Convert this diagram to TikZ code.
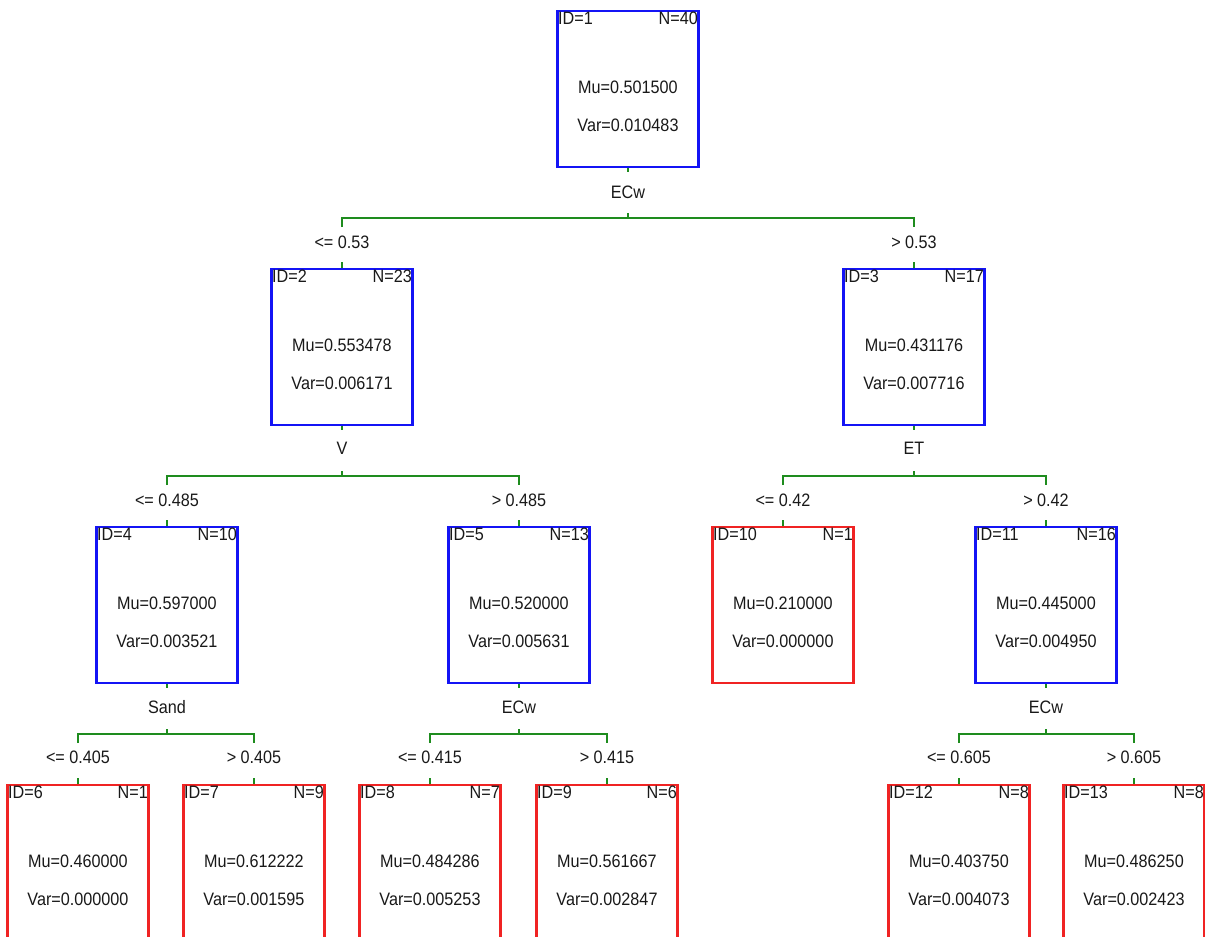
\documentclass[tikz,border=0pt]{standalone}
\usepackage{fontspec}
\setmainfont{Liberation Sans}[FakeStretch=0.9]
\usepackage{tikz}
\usepackage{xcolor}

\definecolor{boxblue}{RGB}{20,20,245}
\definecolor{boxred}{RGB}{240,35,35}
\definecolor{edgegreen}{RGB}{30,140,30}

\tikzset{
  tbox/.style={rectangle, minimum width=141pt, minimum height=156pt, line width=2.2pt, inner sep=0pt, anchor=north},
  edge/.style={edgegreen, line width=1.8pt},
  lbl/.style={inner sep=1pt, text=black!90}
}

% name, x, top, colour, id, n, mu, var
\newcommand{\regnode}[8]{
  \node[tbox, draw=#4] (#1) at (#2,#3) {};
  \node[lbl, anchor=north west] (#1id) at ([shift={(0.5pt,-1pt)}]#1.north west) {ID=#5};
  \node[lbl, anchor=north east] (#1n) at ([shift={(-0.5pt,-1pt)}]#1.north east) {N=#6};
  \node[lbl] (#1mu) at ([yshift=-77pt]#1.north) {Mu=#7};
  \node[lbl] (#1var) at ([yshift=-115pt]#1.north) {Var=#8};
}

\begin{document}
\begin{tikzpicture}[x=1pt, y=-1pt, font=\fontsize{18}{21}\selectfont]
\useasboundingbox (0,0) rectangle (1205,937);

\regnode{n1}{628}{10}{boxblue}{1}{40}{0.501500}{0.010483}
\regnode{n2}{342}{268}{boxblue}{2}{23}{0.553478}{0.006171}
\regnode{n3}{914}{268}{boxblue}{3}{17}{0.431176}{0.007716}
\regnode{n4}{167}{526}{boxblue}{4}{10}{0.597000}{0.003521}
\regnode{n5}{519}{526}{boxblue}{5}{13}{0.520000}{0.005631}
\regnode{n10}{783}{526}{boxred}{10}{1}{0.210000}{0.000000}
\regnode{n11}{1046}{526}{boxblue}{11}{16}{0.445000}{0.004950}
\regnode{n6}{78}{784}{boxred}{6}{1}{0.460000}{0.000000}
\regnode{n7}{254}{784}{boxred}{7}{9}{0.612222}{0.001595}
\regnode{n8}{430}{784}{boxred}{8}{7}{0.484286}{0.005253}
\regnode{n9}{607}{784}{boxred}{9}{6}{0.561667}{0.002847}
\regnode{n12}{959}{784}{boxred}{12}{8}{0.403750}{0.004073}
\regnode{n13}{1134}{784}{boxred}{13}{8}{0.486250}{0.002423}

% split variables
\node[lbl] (s1) at ([yshift=-24pt]n1.south) {ECw};
\node[lbl] (s2) at ([yshift=-22pt]n2.south) {V};
\node[lbl] (s3) at ([yshift=-22pt]n3.south) {ET};
\node[lbl] (s4) at ([yshift=-23pt]n4.south) {Sand};
\node[lbl] (s5) at ([yshift=-23pt]n5.south) {ECw};
\node[lbl] (s11) at ([yshift=-23pt]n11.south) {ECw};

% split values
\node[lbl] (e2) at ([yshift=26pt]n2.north) {<= 0.53};
\node[lbl] (e3) at ([yshift=26pt]n3.north) {> 0.53};
\node[lbl] (e4) at ([yshift=26pt]n4.north) {<= 0.485};
\node[lbl] (e5) at ([yshift=26pt]n5.north) {> 0.485};
\node[lbl] (e10) at ([yshift=26pt]n10.north) {<= 0.42};
\node[lbl] (e11) at ([yshift=26pt]n11.north) {> 0.42};
\node[lbl] (e6) at ([yshift=27pt]n6.north) {<= 0.405};
\node[lbl] (e7) at ([yshift=27pt]n7.north) {> 0.405};
\node[lbl] (e8) at ([yshift=27pt]n8.north) {<= 0.415};
\node[lbl] (e9) at ([yshift=27pt]n9.north) {> 0.415};
\node[lbl] (e12) at ([yshift=27pt]n12.north) {<= 0.605};
\node[lbl] (e13) at ([yshift=27pt]n13.north) {> 0.605};

% brackets
\foreach \p/\l/\r in {n1/n2/n3, n2/n4/n5, n3/n10/n11, n4/n6/n7, n5/n8/n9, n11/n12/n13} {
  \coordinate (b\p) at ([yshift=-50pt]\p.south);
  \draw[edge] (\p.south) -- ++(0,4);
  \draw[edge] (b\p) -- ++(0,-5);
  \draw[edge] (\l.north |- b\p) ++(0,9) -- (\l.north |- b\p) -- (\r.north |- b\p) -- ++(0,9);
  \draw[edge] (\l.north) -- ++(0,-6);
  \draw[edge] (\r.north) -- ++(0,-6);
}
\end{tikzpicture}
\end{document}
